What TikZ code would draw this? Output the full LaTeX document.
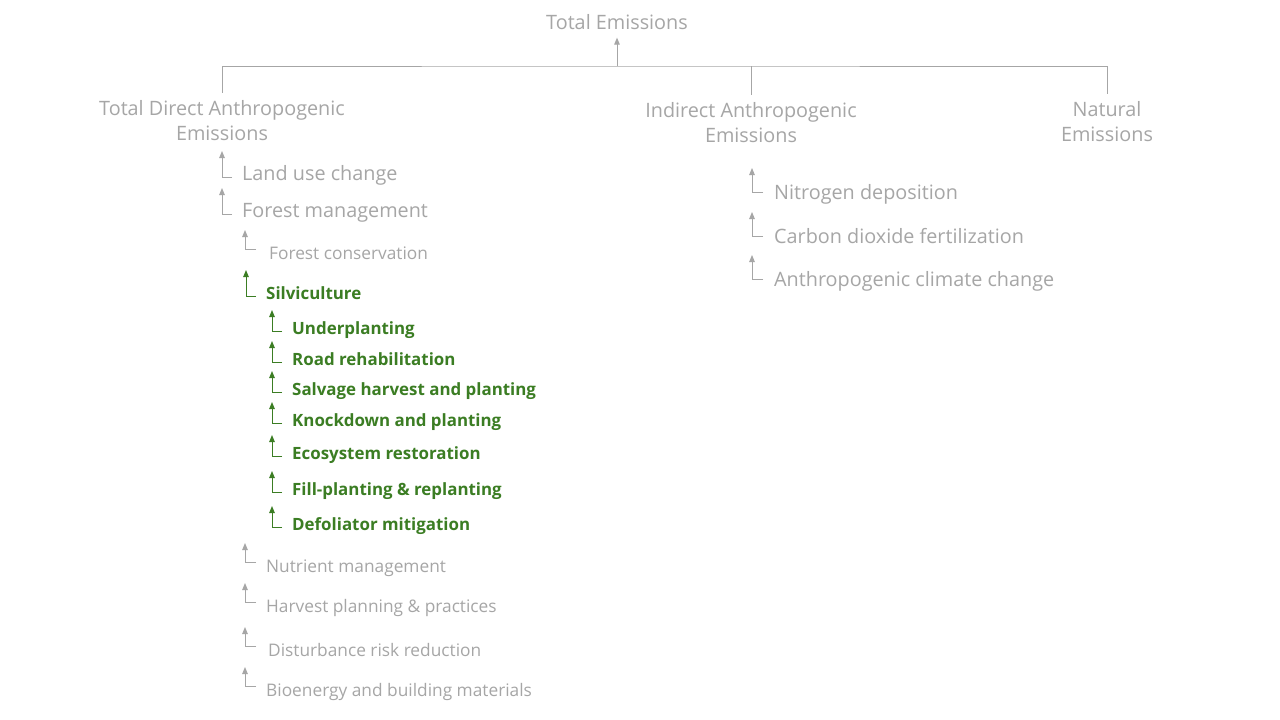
\documentclass[tikz,border=0pt]{standalone}
\usepackage{fontspec}
\setmainfont{Open Sans}
\usetikzlibrary{arrows.meta}
\definecolor{softgray}{RGB}{166,166,166}
\definecolor{leafgreen}{RGB}{59,125,35}
\tikzset{
    x=1pt,
    y=-1pt,
    head/.style = {
        text=softgray,
        font=\fontsize{19.8}{25}\selectfont,
        align=center,
        inner sep=0pt,
        outer sep=8pt
    },
    item/.style = {
        text=softgray,
        font=\fontsize{19.8}{22}\selectfont,
        anchor=west,
        inner sep=0pt,
        text height=16pt,
        text depth=4pt
    },
    subitem/.style = {
        item,
        font=\fontsize{17.3}{18}\selectfont
    },
    greenitem/.style = {
        item,
        text=leafgreen,
        font=\fontsize{16.9}{18}\selectfont\bfseries
    },
    link/.style = {
        draw=softgray,
        line width=1pt
    },
    up/.style = {
        link,
        -{Triangle[width=5.5pt,length=7pt]}
    },
    greenup/.style = {
        up,
        draw=leafgreen
    },
}

\begin{document}
\begin{tikzpicture}
    \fill[white] (0,0) rectangle (1280,720);
    \useasboundingbox (0,0) rectangle (1280,720);

    % top level
    \node[head] (total) at (617,22) {Total Emissions};
    \node[head] (direct) at (222,121) {Total Direct Anthropogenic\\Emissions};
    \node[head] (indirect) at (751,123) {Indirect Anthropogenic\\Emissions};
    \node[head] (natural) at (1107,122) {Natural\\Emissions};
    \coordinate (bus) at (617,66);

    \draw[link] (direct.north) |- (bus) -| (natural.north);
    \draw[link] (indirect.north) -- (indirect.north |- bus);
    \draw[up] (bus) -- (total.south);

    % direct emissions
    \foreach \n/\y/\t in {landuse/174/Land use change, forestmgmt/211/Forest management}{
        \node[item] (\n) at (242,\y) {\t};
        \coordinate (\n-tip) at (222,\y-23);
        \draw[up] ([xshift=-10pt,yshift=-3pt]\n.west) -| (\n-tip);
    }
    \foreach \n/\y/\x/\t in {forestcons/253/269/Forest conservation,
        nutrient/566/266/Nutrient management,
        harvest/606/266/Harvest planning \& practices,
        disturb/650/268/Disturbance risk reduction,
        bioenergy/690/266/Bioenergy and building materials}{
        \node[subitem] (\n) at (\x,\y) {\t};
        \coordinate (\n-tip) at (245,\y-23);
        \draw[up] (\n.west) ++(-10pt-\x+266,-4) -| (\n-tip);
    }

    % silviculture
    \node[greenitem] (silvi) at (266,293) {Silviculture};
    \coordinate (silvi-tip) at (246,270);
    \draw[greenup] ([xshift=-10pt,yshift=-3pt]silvi.west) -| (silvi-tip);
    \foreach \n/\y/\t in {under/328/Underplanting,
        road/359/Road rehabilitation,
        salvage/389/Salvage harvest and planting,
        knock/420/Knockdown and planting,
        eco/453/Ecosystem restoration,
        fill/489/Fill-planting \& replanting,
        defol/524/Defoliator mitigation}{
        \node[greenitem] (\n) at (292,\y) {\t};
        \coordinate (\n-tip) at (272,\y-18);
        \draw[greenup] ([xshift=-10pt,yshift=-3pt]\n.west) -| (\n-tip);
    }

    % indirect emissions
    \foreach \n/\y/\t in {nitrogen/193/Nitrogen deposition,
        carbon/237/Carbon dioxide fertilization,
        climate/280/Anthropogenic climate change}{
        \node[item] (\n) at (774,\y) {\t};
        \coordinate (\n-tip) at (752,\y-25);
        \draw[up] ([xshift=-11pt,yshift=1pt]\n.west) -| (\n-tip);
    }
\end{tikzpicture}
\end{document}
